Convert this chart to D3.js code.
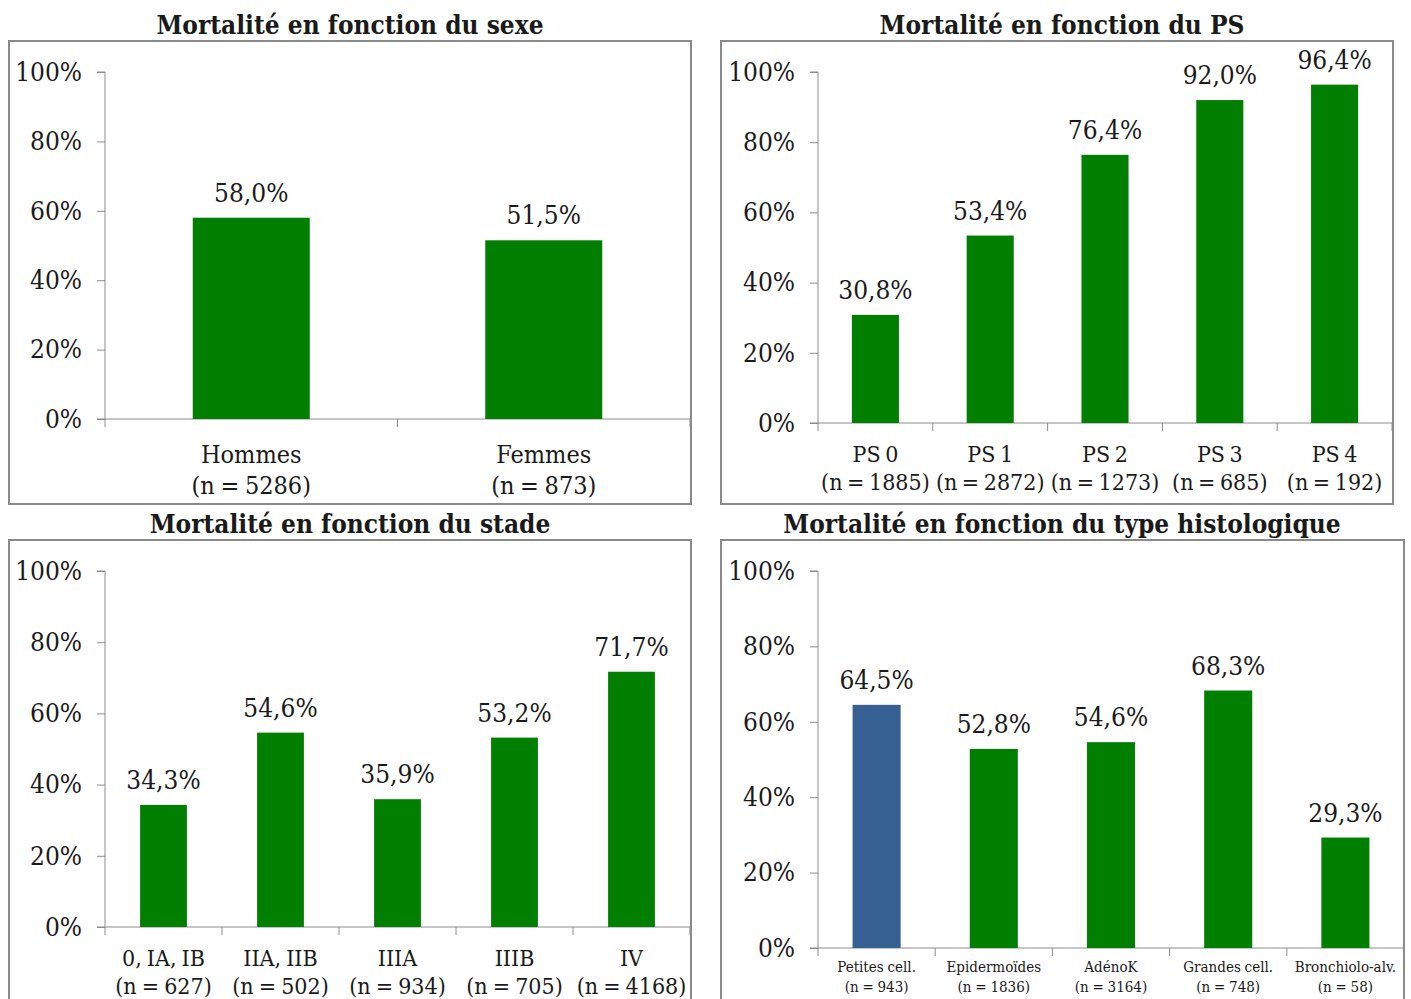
<!DOCTYPE html>
<html lang="fr">
<head>
<meta charset="utf-8">
<title>Mortalité</title>
<script src="https://cdn.jsdelivr.net/npm/d3@7/dist/d3.min.js"></script>
<style>
  html, body { margin: 0; padding: 0; background: #fff; }
  svg { display: block; }
  text { fill: #1a1a1a; }
</style>
</head>
<body>
<svg id="chart" width="1411" height="999"></svg>
<script>
// Mortalité (%) par sous-groupe, avec les effectifs
const sexeCategories = ["Hommes", "Femmes"];
const sexeEffectifs = [5286, 873];
const sexeMortalite = [58.0, 51.5];

const psCategories = ["PS 0", "PS 1", "PS 2", "PS 3", "PS 4"];
const psEffectifs = [1885, 2872, 1273, 685, 192];
const psMortalite = [30.8, 53.4, 76.4, 92.0, 96.4];

const stadeCategories = ["0, IA, IB", "IIA, IIB", "IIIA", "IIIB", "IV"];
const stadeEffectifs = [627, 502, 934, 705, 4168];
const stadeMortalite = [34.3, 54.6, 35.9, 53.2, 71.7];

const histoCategories = ["Petites cell.", "Epidermoïdes", "AdénoK", "Grandes cell.", "Bronchiolo-alv."];
const histoEffectifs = [943, 1836, 3164, 748, 58];
const histoMortalite = [64.5, 52.8, 54.6, 68.3, 29.3];

const yTickValues = [0, 20, 40, 60, 80, 100];

const GREEN = "#007f00";
const BLUE = "#376092";
const FONT = "'DejaVu Serif Condensed', 'DejaVu Serif', serif";

const fr = d3.formatLocale({ decimal: ",", thousands: " ", grouping: [3], currency: ["", " €"] });
const pct1 = v => fr.format(".1f")(v) + "%";

const svg = d3.select("#chart");

const panels = [
  { title: "Mortalité en fonction du sexe", titleX: 350, titleY: 34,
    frame: [9, 41, 691, 504], xRange: [105, 690], yRange: [419, 72],
    barFrac: 0.40, cats: sexeCategories, n: sexeEffectifs, vals: sexeMortalite,
    catY: [463, 494], catSize: 25, wordSpacing: -1.5, colors: null },
  { title: "Mortalité en fonction du PS", titleX: 1062, titleY: 34,
    frame: [721, 41, 1393, 504], xRange: [818, 1392], yRange: [423, 72],
    barFrac: 0.41, cats: psCategories, n: psEffectifs, vals: psMortalite,
    catY: [462, 490], catSize: 23, wordSpacing: -2, colors: null },
  { title: "Mortalité en fonction du stade", titleX: 350, titleY: 533,
    frame: [9, 540, 691, 1010], xRange: [105, 690], yRange: [927, 571],
    barFrac: 0.40, cats: stadeCategories, n: stadeEffectifs, vals: stadeMortalite,
    catY: [966, 994], catSize: 23, wordSpacing: -1.5, colors: null },
  { title: "Mortalité en fonction du type histologique", titleX: 1062, titleY: 533,
    frame: [721, 540, 1404, 1010], xRange: [818, 1404], yRange: [948, 571],
    barFrac: 0.41, cats: histoCategories, n: histoEffectifs, vals: histoMortalite,
    catY: [972, 992], catSize: 15, wordSpacing: -0.5, colors: [BLUE, GREEN, GREEN, GREEN, GREEN] }
];

panels.forEach(p => {
  const g = svg.append("g");

  // cadre du graphique
  const [fx0, fy0, fx1, fy1] = p.frame;
  g.append("rect")
    .attr("x", fx0).attr("y", fy0)
    .attr("width", fx1 - fx0).attr("height", fy1 - fy0)
    .attr("fill", "#fff").attr("stroke", "#8a8a8a").attr("stroke-width", 2);

  // titre
  g.append("text")
    .attr("x", p.titleX).attr("y", p.titleY)
    .attr("text-anchor", "middle")
    .style("font-family", FONT).style("font-weight", "bold").style("font-size", "26px")
    .text(p.title);

  const pad = 1 - p.barFrac;
  const x = d3.scaleBand().domain(p.cats).range(p.xRange)
    .paddingInner(pad).paddingOuter(pad / 2);
  const y = d3.scaleLinear().domain([0, 100]).range(p.yRange);
  const edges = d3.scaleLinear().domain([0, p.cats.length]).range(p.xRange);

  // axe des ordonnées
  const yAxis = d3.axisLeft(y).tickValues(yTickValues).tickSize(8).tickPadding(15)
    .tickFormat(d => d + "%");
  const ya = g.append("g").attr("transform", `translate(${p.xRange[0]},0)`).call(yAxis);
  ya.select(".domain").attr("stroke", "#8c8c8c").attr("d", `M-8,${p.yRange[1]}H0V${p.yRange[0]}`);
  ya.selectAll(".tick line").attr("stroke", "#8c8c8c");
  ya.selectAll(".tick text")
    .style("font-family", FONT).style("font-size", "26px").attr("fill", "#1a1a1a");

  // axe des abscisses avec graduations aux limites des catégories
  const xa = g.append("g");
  xa.append("line")
    .attr("x1", p.xRange[0] - 8).attr("x2", p.xRange[1])
    .attr("y1", p.yRange[0]).attr("y2", p.yRange[0])
    .attr("stroke", "#8c8c8c");
  xa.selectAll("line.edge").data(d3.range(p.cats.length + 1)).join("line")
    .attr("class", "edge")
    .attr("x1", d => edges(d)).attr("x2", d => edges(d))
    .attr("y1", p.yRange[0]).attr("y2", p.yRange[0] + 8)
    .attr("stroke", "#8c8c8c");

  // barres
  g.selectAll("rect.bar").data(p.vals).join("rect")
    .attr("class", "bar")
    .attr("x", (d, i) => x(p.cats[i]))
    .attr("width", x.bandwidth())
    .attr("y", d => y(d))
    .attr("height", d => y(0) - y(d))
    .attr("fill", (d, i) => p.colors ? p.colors[i] : GREEN);

  // étiquettes de valeur
  g.selectAll("text.val").data(p.vals).join("text")
    .attr("class", "val")
    .attr("x", (d, i) => x(p.cats[i]) + x.bandwidth() / 2)
    .attr("y", d => y(d) - 16)
    .attr("text-anchor", "middle")
    .style("font-family", FONT).style("font-size", "26px")
    .text(d => pct1(d));

  // libellés des catégories
  const lab = g.selectAll("text.cat").data(p.cats).join("text")
    .attr("class", "cat")
    .attr("text-anchor", "middle")
    .style("font-family", FONT).style("font-size", p.catSize + "px")
    .style("word-spacing", p.wordSpacing + "px");
  lab.append("tspan")
    .attr("x", d => x(d) + x.bandwidth() / 2).attr("y", p.catY[0])
    .text(d => d);
  lab.append("tspan")
    .attr("x", d => x(d) + x.bandwidth() / 2).attr("y", p.catY[1])
    .text((d, i) => `(n = ${p.n[i]})`);
});
</script>
</body>
</html>
